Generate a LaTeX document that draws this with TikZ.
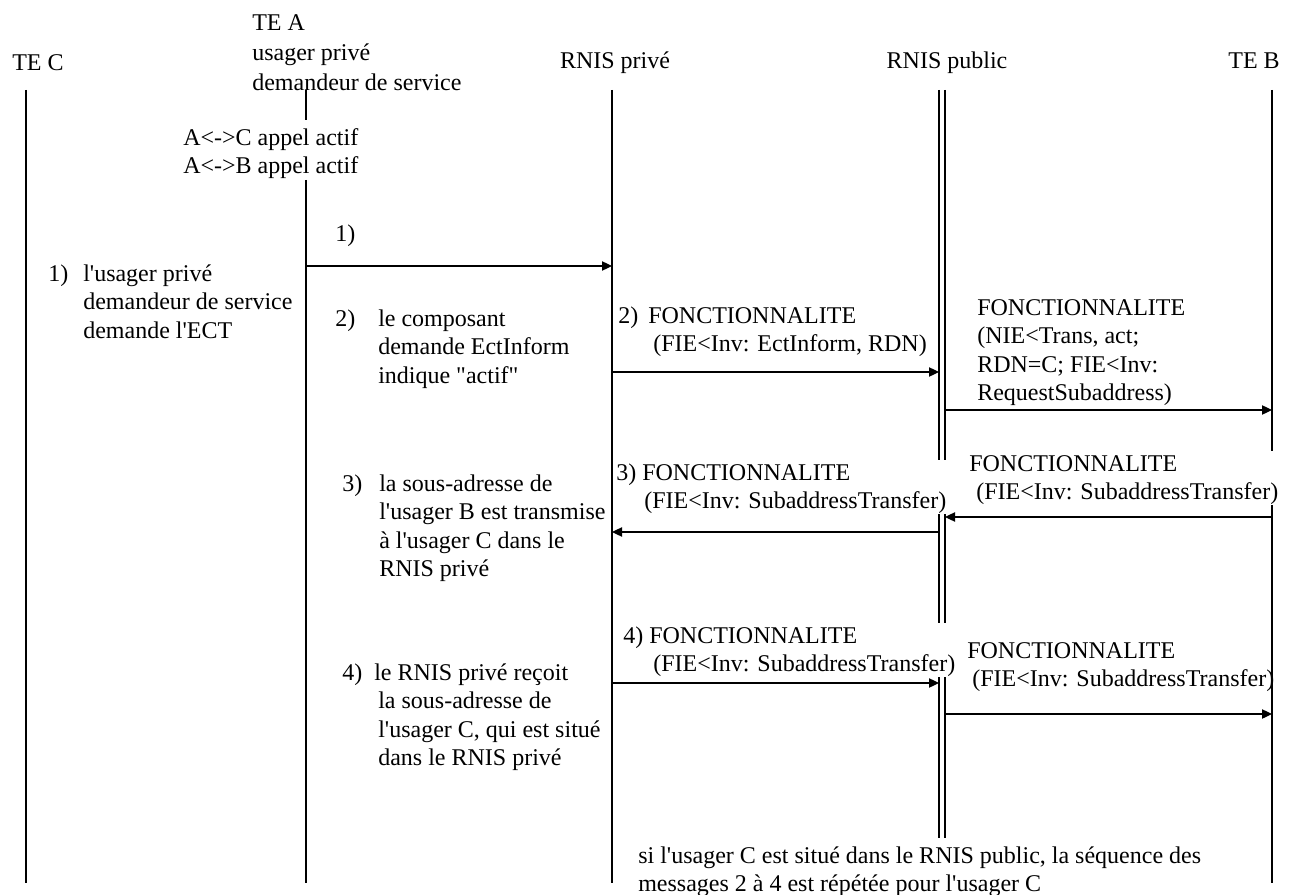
\documentclass[tikz,border=0pt]{standalone}
\usepackage{fontspec}
\setmainfont{Liberation Serif}[Ligatures=TeXOff]
\usetikzlibrary{arrows.meta}
\begin{document}
\begin{tikzpicture}[x=0.75pt,y=-0.75pt,
  lbl/.style={anchor=north west, inner sep=0pt, align=left, font=\fontsize{18}{21.4}\selectfont},
  hdr/.style={lbl, anchor=north},
  cover/.style={fill=white},
  life/.style={line width=0.9pt},
  msg/.style={line width=0.9pt, -{Triangle[length=7.5pt,width=7pt]}}]
\useasboundingbox (0,0) rectangle (1289,895);
% lifeline end points
\coordinate (C0) at (26,90);   \coordinate (C1) at (26,883);
\coordinate (A0) at (306,90);  \coordinate (A0b) at (306,120);
\coordinate (A1) at (306,180); \coordinate (A1b) at (306,883);
\coordinate (P0) at (612,90);  \coordinate (P1) at (612,883);
\coordinate (Q0) at (939,90);  \coordinate (Q1) at (939,838);
\coordinate (R0) at (945,90);  \coordinate (R1) at (945,838);
\coordinate (B0) at (1272,90); \coordinate (B1) at (1272,883);
% lifelines
\draw[life] (C0) -- (C1);
\draw[life] (A0) -- (A0b);
\draw[life] (A1) -- (A1b);
\draw[life] (P0) -- (P1);
\draw[life] (Q0) -- (Q1);
\draw[life] (R0) -- (R1);
\draw[life] (B0) -- (B1);
% headers
\node[lbl] (tec) at (12,50) {\strut TE C};
\node[lbl, font=\fontsize{18}{22.5}\selectfont] (tea) at (252,9) {\strut TE A\\usager privé\\demandeur de service};
\node[hdr] (rpriv) at (615,48) {\strut RNIS privé};
\node[hdr] (rpub) at (947,48) {\strut RNIS public};
\node[hdr] (teb) at (1254,48) {\strut TE B};
% state
\node[lbl] (act) at (183,125) {\strut A<->C appel actif\\A<->B appel actif};
% step texts
\node[lbl] (n1) at (335,221) {\strut 1)};
\node[lbl] (s1) at (48,261) {\strut\makebox[26.25pt][l]{1)}l'usager privé\\\hspace*{26.25pt}demandeur de service\\\hspace*{26.25pt}demande l'ECT};
\node[lbl] (s2) at (335,306) {\strut\makebox[32.25pt][l]{2)}le composant\\\hspace*{32.25pt}demande EctInform\\\hspace*{32.25pt}indique "actif"};
\node[lbl] (s3) at (342,471) {\strut\makebox[27.75pt][l]{3)}la sous-adresse de\\\hspace*{27.75pt}l'usager B est transmise\\\hspace*{27.75pt}à l'usager C dans le\\\hspace*{27.75pt}RNIS privé};
\node[lbl] (s4) at (342,660) {\strut\makebox[24pt][l]{4)}le RNIS privé reçoit\\\hspace*{27pt}la sous-adresse de\\\hspace*{27pt}l'usager C, qui est situé\\\hspace*{27pt}dans le RNIS privé};
% message labels
\node[lbl] (m2) at (618,303) {\strut\makebox[22.5pt][l]{2)}FONCTIONNALITE\\\hspace*{26.25pt}(FIE<Inv: EctInform, RDN)};
\node[lbl] (m2b) at (977,295) {\strut FONCTIONNALITE\\(NIE<Trans, act;\\RDN=C; FIE<Inv:\\RequestSubaddress)};
\node[lbl, cover] (m3) at (616,460) {\strut\makebox[19.5pt][l]{3)}FONCTIONNALITE\\\hspace*{21pt}(FIE<Inv: SubaddressTransfer)};
\node[lbl, cover] (m3b) at (969,451) {\strut FONCTIONNALITE\\\hspace*{5.25pt}(FIE<Inv: SubaddressTransfer)};
\node[lbl, cover] (m4) at (623,623) {\strut\makebox[19.5pt][l]{4)}FONCTIONNALITE\\\hspace*{22.5pt}(FIE<Inv: SubaddressTransfer)};
\node[lbl] (m4b) at (967,638) {\strut FONCTIONNALITE\\\hspace*{3.75pt}(FIE<Inv: SubaddressTransfer)};
\node[lbl] (note) at (638,843) {\strut si l'usager C est situé dans le RNIS public, la séquence des\\messages 2 à 4 est répétée pour l'usager C};
% arrow end points
\coordinate (a1s) at (306,266);  \coordinate (a1e) at (612,266);
\coordinate (a2s) at (612,372);  \coordinate (a2e) at (939,372);
\coordinate (a2bs) at (945,410); \coordinate (a2be) at (1272,410);
\coordinate (a3bs) at (1272,517);\coordinate (a3be) at (945,517);
\coordinate (a3s) at (939,532);  \coordinate (a3e) at (612,532);
\coordinate (a4s) at (612,683);  \coordinate (a4e) at (939,683);
\coordinate (a4bs) at (945,714); \coordinate (a4be) at (1272,714);
% messages
\draw[msg] (a1s) -- (a1e);
\draw[msg] (a2s) -- (a2e);
\draw[msg] (a2bs) -- (a2be);
\draw[msg] (a3bs) -- (a3be);
\draw[msg] (a3s) -- (a3e);
\draw[msg] (a4s) -- (a4e);
\draw[msg] (a4bs) -- (a4be);
\end{tikzpicture}
\end{document}
